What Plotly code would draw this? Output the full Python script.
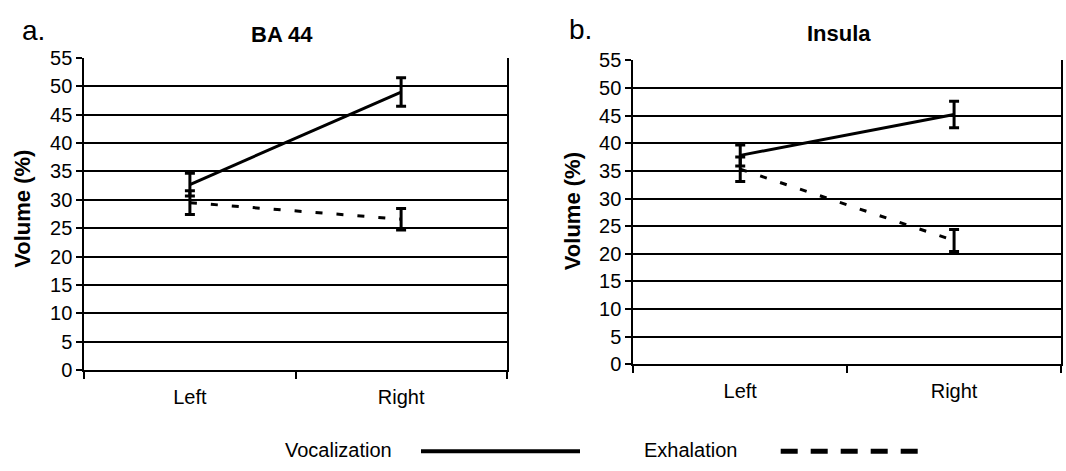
import plotly.graph_objects as go

W, H = 1066, 471

categories = ["Left", "Right"]

ba44_vocalization = [32.7, 49.0]
ba44_vocalization_err = [2.0, 2.5]
ba44_exhalation = [29.5, 26.6]
ba44_exhalation_err = [2.1, 1.9]

insula_vocalization = [37.8, 45.2]
insula_vocalization_err = [1.9, 2.4]
insula_exhalation = [35.3, 22.4]
insula_exhalation_err = [2.2, 2.0]

y_ticks = list(range(0, 56, 5))

FONT = "Liberation Sans, Arial, Helvetica, sans-serif"


def px_x(x):
    return x / W


def px_y(y):
    return 1 - y / H


fig = go.Figure()

panels = [
    ("x", "y", ba44_vocalization, ba44_vocalization_err, ba44_exhalation, ba44_exhalation_err),
    ("x2", "y2", insula_vocalization, insula_vocalization_err, insula_exhalation, insula_exhalation_err),
]

for xa, ya, voc, voc_e, exh, exh_e in panels:
    fig.add_trace(go.Scatter(
        x=categories, y=exh, xaxis=xa, yaxis=ya, mode="lines",
        line=dict(color="black", width=3, dash="7px,14px"),
        error_y=dict(type="data", array=exh_e, color="black", thickness=3, width=5),
        showlegend=False, name="Exhalation"))
    fig.add_trace(go.Scatter(
        x=categories, y=voc, xaxis=xa, yaxis=ya, mode="lines",
        line=dict(color="black", width=3),
        error_y=dict(type="data", array=voc_e, color="black", thickness=3, width=5),
        showlegend=False, name="Vocalization"))

xcommon = dict(type="category", range=[-0.5, 1.5], tickson="boundaries", ticks="outside",
               ticklen=7, tickwidth=2, tickcolor="black", showline=True, linewidth=2,
               linecolor="black", showgrid=False, zeroline=False, ticklabelstandoff=8,
               tickfont=dict(family=FONT, size=20, color="black"), fixedrange=True)
ycommon = dict(range=[0, 55], tickvals=y_ticks, ticks="outside", ticklen=6, tickwidth=2,
               tickcolor="black", showline=True, linewidth=2, linecolor="black", mirror=True,
               showgrid=True, gridcolor="black", gridwidth=1.5, zeroline=False,
               tickfont=dict(family=FONT, size=20, color="black"), fixedrange=True)

fig.update_layout(
    width=W, height=H,
    margin=dict(l=0, r=0, t=0, b=0),
    paper_bgcolor="white", plot_bgcolor="white",
    showlegend=False,
    xaxis=dict(domain=[px_x(84.3), px_x(506.7)], anchor="y", **xcommon),
    yaxis=dict(domain=[px_y(376.7), px_y(49.3)], anchor="x", **ycommon),
    xaxis2=dict(domain=[px_x(633.3), px_x(1061)], anchor="y2", **xcommon),
    yaxis2=dict(domain=[px_y(370.7), px_y(51.7)], anchor="x2", **ycommon),
)

annotations = [
    dict(text="a.", x=px_x(33), y=px_y(20), font=dict(size=28, family=FONT)),
    dict(text="b.", x=px_x(580), y=px_y(19), font=dict(size=28, family=FONT)),
    dict(text="<b>BA 44</b>", x=px_x(281.5), y=px_y(24.5), font=dict(size=22, family=FONT)),
    dict(text="<b>Insula</b>", x=px_x(839), y=px_y(24), font=dict(size=22, family=FONT)),
    dict(text="<b>Volume (%)</b>", x=px_x(23), y=px_y(207.5), textangle=-90,
         font=dict(size=22, family=FONT)),
    dict(text="<b>Volume (%)</b>", x=px_x(572), y=px_y(210), textangle=-90,
         font=dict(size=22, family=FONT)),
    dict(text="Vocalization", x=px_x(338), y=px_y(460), font=dict(size=20, family=FONT)),
    dict(text="Exhalation", x=px_x(690), y=px_y(460), font=dict(size=20, family=FONT)),
]
for a in annotations:
    a.update(xref="paper", yref="paper", showarrow=False, xanchor="center", yanchor="middle")
    a["font"]["color"] = "black"

shapes = [
    dict(type="line", xref="paper", yref="paper", x0=px_x(421), x1=px_x(580),
         y0=px_y(461.7), y1=px_y(461.7), line=dict(color="black", width=4)),
    dict(type="line", xref="paper", yref="paper", x0=px_x(780.7), x1=px_x(918),
         y0=px_y(461.7), y1=px_y(461.7), line=dict(color="black", width=5, dash="17px,13px")),
]
fig.update_layout(annotations=annotations, shapes=shapes)

fig.write_html("out.html")
